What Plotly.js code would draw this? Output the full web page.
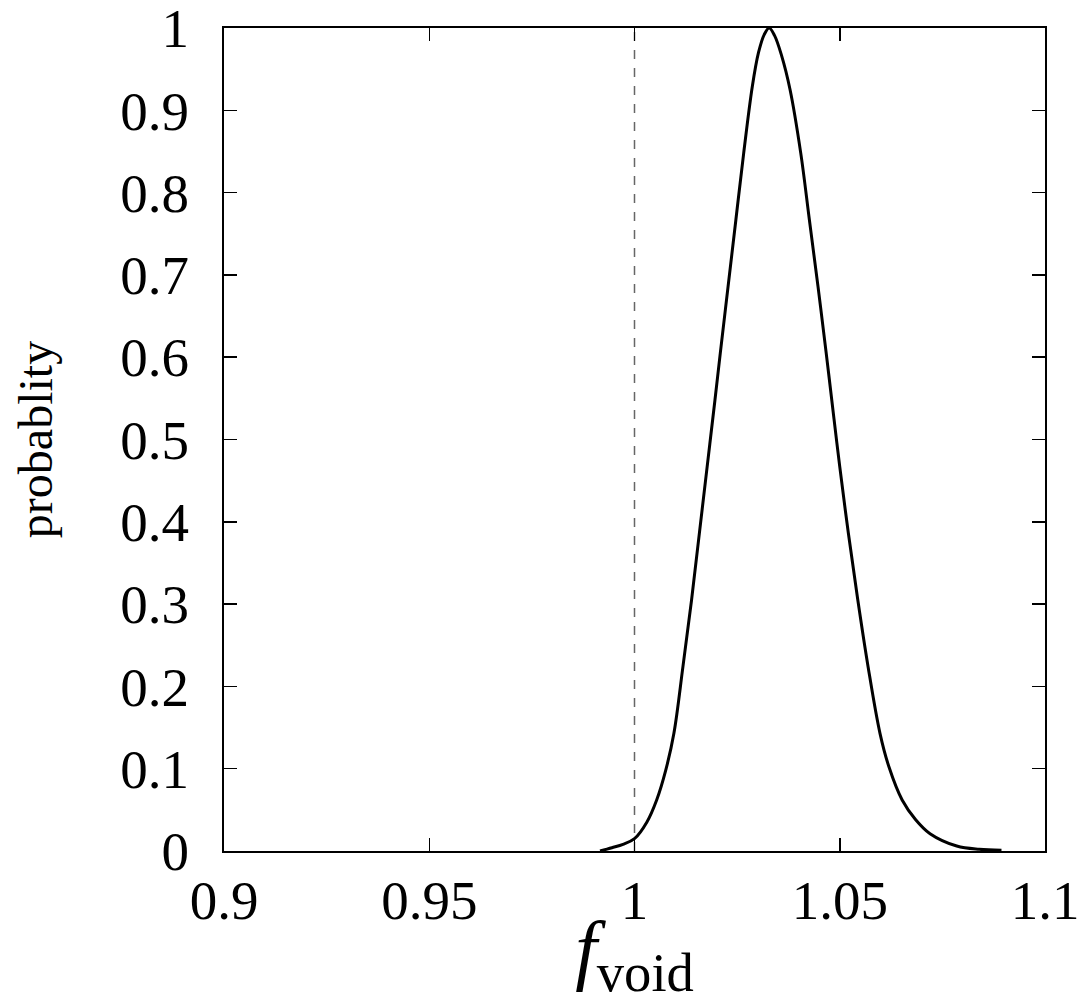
<!DOCTYPE html>
<html>
<head>
<meta charset="utf-8">
<script src="https://cdn.plot.ly/plotly-3.0.1.min.js"></script>
<style>html,body{margin:0;padding:0;background:#fff;}#chart{width:1086px;height:1003px;}</style>
</head>
<body>
<div id="chart"></div>
<script>
// Curve data
const fVoid = [0.9916, 0.9945, 0.9972, 1.0000, 1.0030, 1.0054, 1.0076, 1.0096, 1.0118, 1.0139,
               1.0158, 1.0177, 1.0196, 1.0209, 1.0228, 1.0247, 1.0266, 1.0287, 1.0302, 1.0316,
               1.0328, 1.0341, 1.0358, 1.0379, 1.0405, 1.0426, 1.0447, 1.0467, 1.0486, 1.0500,
               1.0521, 1.0544, 1.0569, 1.0598, 1.0620, 1.0652, 1.0685, 1.0720, 1.0785, 1.0840, 1.0894];
const probability = [0.000, 0.004, 0.008, 0.015, 0.035, 0.062, 0.098, 0.143, 0.224, 0.305,
                     0.386, 0.467, 0.548, 0.605, 0.686, 0.767, 0.848, 0.929, 0.970, 0.992,
                     1.000, 0.991, 0.967, 0.925, 0.848, 0.767, 0.686, 0.605, 0.525, 0.467,
                     0.386, 0.305, 0.224, 0.143, 0.102, 0.062, 0.038, 0.021, 0.006, 0.002, 0.001];
// Reference (dashed) line at f_void = 1
const refX = [1.0, 1.0];
const refY = [0, 1];
// Tick labels
const xTickVals = [0.9, 0.95, 1.0, 1.05, 1.1];
const xTickText = ["0.9", "0.95", "1", "1.05", "1.1"];
const yTickVals = [0, 0.1, 0.2, 0.3, 0.4, 0.5, 0.6, 0.7, 0.8, 0.9, 1];
const yTickText = ["0", "0.1", "0.2", "0.3", "0.4", "0.5", "0.6", "0.7", "0.8", "0.9", "1"];

const serif = "Liberation Serif, Times New Roman, serif";

const traces = [
  {x: refX, y: refY, mode: "lines", line: {color: "#666", width: 1.5, dash: "dash"}, hoverinfo: "skip"},
  {x: fVoid, y: probability, mode: "lines", line: {color: "#000", width: 3, shape: "spline", smoothing: 1}}
];

const axisCommon = {
  showline: true, linecolor: "#000", linewidth: 2, mirror: "ticks",
  ticks: "inside", ticklen: 13, tickwidth: 1.5, tickcolor: "#000",
  showgrid: false, zeroline: false, tickmode: "array",
  ticklabeloverflow: "allow",
  tickfont: {family: serif, size: 55, color: "#000"}
};

const layout = {
  width: 1086, height: 1003,
  margin: {l: 224, r: 41, t: 28, b: 152},
  paper_bgcolor: "#fff", plot_bgcolor: "#fff",
  showlegend: false,
  xaxis: Object.assign({}, axisCommon, {
    range: [0.9, 1.1], tickvals: xTickVals, ticktext: xTickText,
    ticklabelstandoff: 0,
    title: {text: "<i>f</i><sub>void</sub>", font: {family: serif, size: 78, color: "#000"}, standoff: 8}
  }),
  yaxis: Object.assign({}, axisCommon, {
    range: [0, 1], tickvals: yTickVals, ticktext: yTickText,
    ticklabelstandoff: 22,
    title: {text: "probablity", font: {family: serif, size: 48, color: "#000"}, standoff: 52}
  })
};

Plotly.newPlot("chart", traces, layout, {displayModeBar: false, staticPlot: true});
</script>
</body>
</html>
